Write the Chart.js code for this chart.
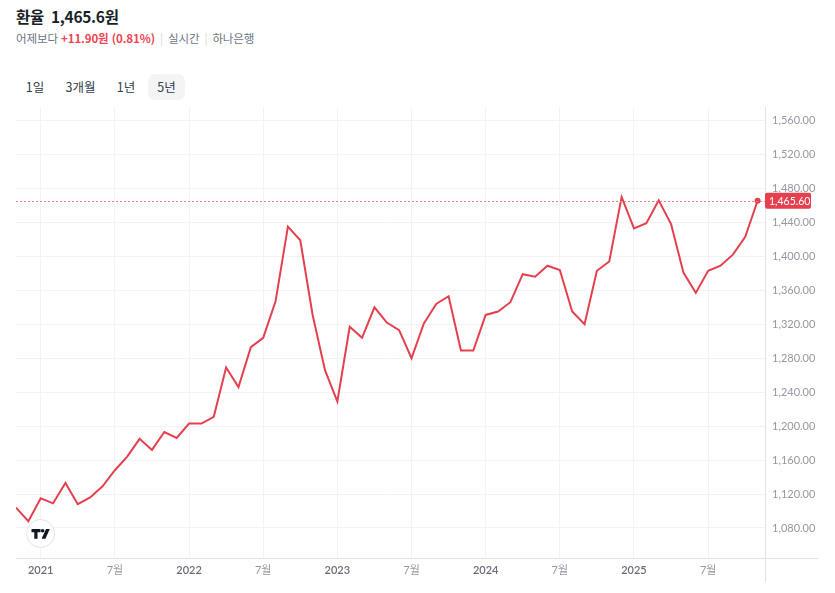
<!DOCTYPE html>
<html lang="ko">
<head>
<meta charset="utf-8">
<script src="https://cdn.jsdelivr.net/npm/chart.js@4.4.1/dist/chart.umd.min.js"></script>
<style>
  body { margin:0; width:835px; height:593px; background:#fff; font-family:"Noto Sans CJK KR","Noto Sans",sans-serif; position:relative; overflow:hidden; }
  .title { position:absolute; left:16px; top:5px; font-size:15.5px; font-weight:700; color:#191f28; letter-spacing:-0.3px; }
  .title .price { margin-left:3px; font-weight:600; }
  .sub { position:absolute; left:16px; top:30px; font-size:11.5px; color:#6b7684; letter-spacing:-0.1px; }
  .sub .up { color:#f04452; font-weight:600; }
  .sub .sep { color:#d1d6db; margin:0 5px; }
  .tab { position:absolute; top:74px; height:26px; line-height:26px; text-align:center; font-size:12.5px; color:#333d4b; border-radius:7px; }
  .tab.on { background:#f2f4f6; }
  #wrap { position:absolute; left:0; top:94px; width:835px; height:499px; }
  .tv { position:absolute; left:26px; top:519px; width:27px; height:27px; border-radius:50%; background:#fff; border:1px solid #e0e3eb; }
</style>
</head>
<body>
<div class="title">환율<span class="price"> 1,465.6원</span></div>
<div class="sub">어제보다 <span class="up">+11.90원 (0.81%)</span><span class="sep">|</span>실시간<span class="sep">|</span>하나은행</div>
<div class="tab" style="left:16px;width:38px">1일</div>
<div class="tab" style="left:57px;width:47px">3개월</div>
<div class="tab" style="left:107px;width:38px">1년</div>
<div class="tab on" style="left:148px;width:37px">5년</div>
<div id="wrap"><canvas id="c"></canvas></div>
<div class="tv"><svg width="27" height="27" viewBox="0 0 27 27">
  <path d="M4.5 9h9v3.2h-3v6.6h-3.2v-6.6H4.5z" fill="#131722"/>
  <circle cx="15.6" cy="10.8" r="1.8" fill="#131722"/>
  <path d="M19 9h3.8l-4.4 9.8h-3.8z" fill="#131722"/>
</svg></div>
<script>
// monthly close, 2020-11 .. 2025-11
const months = ['2020-11','2020-12',
  '2021-01','2021-02','2021-03','2021-04','2021-05','2021-06','2021-07','2021-08','2021-09','2021-10','2021-11','2021-12',
  '2022-01','2022-02','2022-03','2022-04','2022-05','2022-06','2022-07','2022-08','2022-09','2022-10','2022-11','2022-12',
  '2023-01','2023-02','2023-03','2023-04','2023-05','2023-06','2023-07','2023-08','2023-09','2023-10','2023-11','2023-12',
  '2024-01','2024-02','2024-03','2024-04','2024-05','2024-06','2024-07','2024-08','2024-09','2024-10','2024-11','2024-12',
  '2025-01','2025-02','2025-03','2025-04','2025-05','2025-06','2025-07','2025-08','2025-09','2025-10','2025-11'];
const rates = [1104,1088,
  1115,1109,1133,1108,1116,1129,1148,1164,1185,1172,1193,1186,
  1203,1203,1211,1269,1246,1293,1304,1347,1435,1419,1331,1266,
  1229,1317,1304,1340,1322,1313,1280,1321,1344,1353,1289,1289,
  1331,1335,1346,1379,1376,1389,1384,1335,1320,1383,1394,1470,
  1433,1439,1466,1438,1381,1357,1383,1389,1402,1423,1465.6];
const yTicks = [1080,1120,1160,1200,1240,1280,1320,1360,1400,1440,1480,1520,1560];
const xTickMonths = ['2021-01','2021-07','2022-01','2022-07','2023-01','2023-07','2024-01','2024-07','2025-01','2025-07'];

const lineColor = '#e5404f';
const base = months.indexOf('2021-01');
const idx = m => months.indexOf(m) - base;
const pts = rates.map((v, i) => ({ x: i - base, y: v }));
const last = rates[rates.length - 1];

const extras = {
  id: 'extras',
  afterDraw(chart) {
    const { ctx, chartArea: a } = chart;
    const y = chart.scales.y.getPixelForValue(last);
    ctx.save();
    // axis extensions
    ctx.strokeStyle = '#e0e3eb';
    ctx.lineWidth = 1;
    ctx.beginPath();
    ctx.moveTo(a.right + 0.5, a.bottom); ctx.lineTo(a.right + 0.5, a.bottom + 24);
    ctx.moveTo(a.right, a.bottom + 0.5); ctx.lineTo(a.right + 53, a.bottom + 0.5);
    ctx.stroke();
    // last price line
    ctx.strokeStyle = '#ee7a85';
    ctx.setLineDash([2, 2]);
    ctx.beginPath();
    ctx.moveTo(a.left, Math.round(y) + 0.5); ctx.lineTo(a.right, Math.round(y) + 0.5);
    ctx.stroke();
    ctx.setLineDash([]);
    // price label
    ctx.fillStyle = lineColor;
    ctx.beginPath();
    ctx.roundRect(a.right, y - 8, 46, 16, 2);
    ctx.fill();
    ctx.fillStyle = '#fff';
    ctx.font = '10.5px Lato, "Noto Sans", sans-serif';
    ctx.textBaseline = 'middle';
    ctx.fillText(last.toLocaleString('en-US', { minimumFractionDigits: 2 }), a.right + 4, y + 0.5);
    ctx.restore();
  }
};

new Chart(document.getElementById('c'), {
  type: 'line',
  data: {
    datasets: [{
      data: pts,
      borderColor: lineColor,
      borderWidth: 2,
      pointRadius: ctx => ctx.dataIndex === rates.length - 1 ? 3 : 0,
      pointBackgroundColor: lineColor,
      pointBorderWidth: 0,
      tension: 0
    }]
  },
  options: {
    responsive: true,
    maintainAspectRatio: false,
    animation: false,
    layout: { padding: { left: 16, top: 0, right: 0, bottom: 0 } },
    plugins: { legend: { display: false }, tooltip: { enabled: false } },
    scales: {
      x: {
        type: 'linear',
        min: -2, max: 58.6,
        afterBuildTicks: s => { s.ticks = xTickMonths.map(m => ({ value: idx(m) })); },
        afterFit: s => { s.height = 35; },
        border: { color: '#e0e3eb' },
        grid: { color: '#f2f3f5', drawTicks: false },
        ticks: {
          padding: 6,
          maxRotation: 0,
          autoSkip: false,
          callback: v => v % 12 === 0 ? String(2021 + v / 12) : '7월',
          color: c => c.tick && c.tick.value % 12 === 0 ? '#6a6d78' : '#9598a1',
          font: c => ({ family: 'Lato, "Noto Sans CJK KR", sans-serif', size: 11, weight: c.tick && c.tick.value % 12 === 0 ? '600' : '400' })
        }
      },
      y: {
        position: 'right',
        min: 1044.6, max: 1575.3,
        afterBuildTicks: s => { s.ticks = yTicks.map(v => ({ value: v })); },
        afterFit: s => { s.width = 70; },
        border: { color: '#e0e3eb' },
        grid: { color: '#f2f3f5', drawTicks: false },
        ticks: {
          padding: 7,
          color: '#9598a1',
          font: { family: 'Lato, "Noto Sans", sans-serif', size: 11 },
          callback: v => v.toLocaleString('en-US', { minimumFractionDigits: 2 })
        }
      }
    }
  },
  plugins: [extras]
});
</script>
</body>
</html>
